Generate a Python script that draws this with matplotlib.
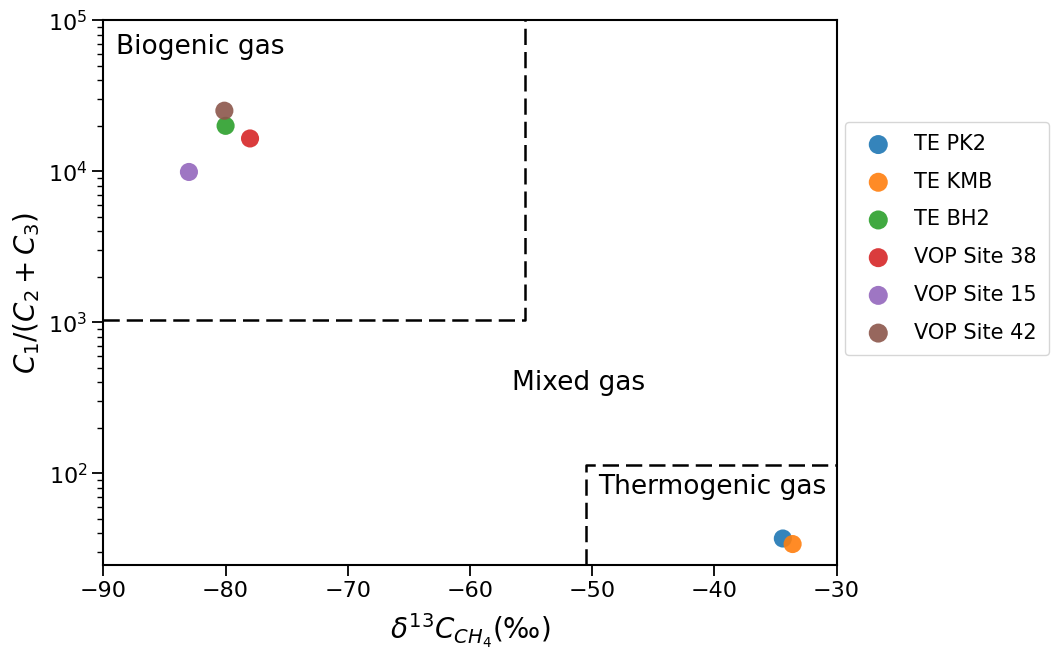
import matplotlib
matplotlib.use('Agg')
import matplotlib.pyplot as plt

# isotope vs wetness ratio for each site
sites = ['TE PK2', 'TE KMB', 'TE BH2', 'VOP Site 38', 'VOP Site 15', 'VOP Site 42']
d13c = [-34.4, -33.6, -80.0, -78.0, -83.0, -80.1]
ratio = [37, 34, 20000, 16500, 9900, 25200]

# zone boundaries
bio_x, bio_y = -55.5, 1030
thermo_x, thermo_y = -50.5, 114

plt.rcParams['font.family'] = 'DejaVu Sans'
plt.rcParams['mathtext.fontset'] = 'dejavusans'

fig = plt.figure(figsize=(10.55, 6.55), dpi=100)
ax = fig.add_axes([0.098, 0.137, 0.695, 0.832])

for name, x, y in zip(sites, d13c, ratio):
    ax.scatter(x, y, s=170, label=name, alpha=0.9, edgecolors='none', zorder=3)

ax.set_yscale('log')
ax.set_xlim(-90, -30)
ax.set_ylim(24.6, 1e5)

# biogenic and thermogenic zone outlines
dash = dict(color='black', ls=(0, (6.5, 2.8)), lw=1.8)
ax.plot([-90, bio_x, bio_x], [bio_y, bio_y, 1e5], **dash)
ax.plot([thermo_x, thermo_x, -30], [24.6, thermo_y, thermo_y], **dash)

ax.text(-89, 6.7e4, 'Biogenic gas', fontsize=19, va='center')
ax.text(-56.6, 395, 'Mixed gas', fontsize=19, va='center')
ax.text(-49.5, 81, 'Thermogenic gas', fontsize=19, va='center')

ax.set_xlabel(r'$\delta^{13}C_{CH_4}$(‰)', fontsize=20, labelpad=8)
ax.set_ylabel(r'$C_1/(C_2 + C_3)$', fontsize=20)
ax.tick_params(which='major', labelsize=16, length=8, width=1.3)
ax.tick_params(which='minor', length=4, width=1.0)
for s in ax.spines.values():
    s.set_linewidth(1.5)

ax.legend(loc='center left', bbox_to_anchor=(1.0, 0.6), borderaxespad=0.4,
          fontsize=15, handletextpad=0.7, labelspacing=0.85, borderpad=0.6,
          markerscale=1.05)

fig.savefig('out.png', dpi=100)
